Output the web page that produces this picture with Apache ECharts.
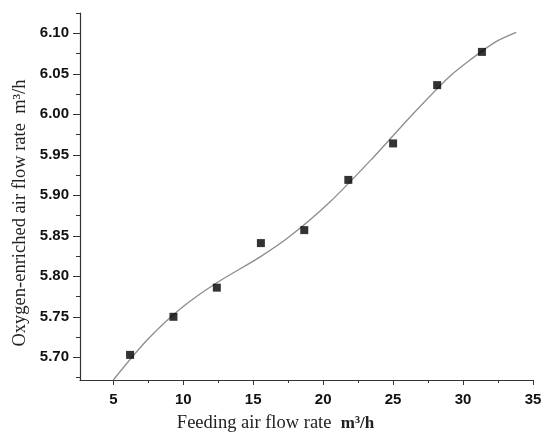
<!DOCTYPE html>
<html>
<head>
<meta charset="utf-8">
<style>
  html, body { margin: 0; padding: 0; background: #fff; }
  #chart { width: 544px; height: 435px; }
</style>
<script src="https://cdn.jsdelivr.net/npm/echarts@6/dist/echarts.min.js"></script>
</head>
<body>
<div id="chart"></div>
<script>
// measured points (feeding air vs oxygen-enriched air)
const feedX = [6.2, 9.3, 12.4, 15.55, 18.65, 21.8, 25.0, 28.15, 31.35];
const oxyY = [5.703, 5.750, 5.786, 5.841, 5.857, 5.919, 5.964, 6.036, 6.077];

// fitted curve
const fitX = [5.0, 7.4, 9.8, 12.4, 15.5, 17.6, 20.5, 23.6, 26.4, 29.0, 30.5, 32.3, 33.8];
const fitY = [5.672, 5.721, 5.760, 5.792, 5.824, 5.849, 5.892, 5.947, 6.000, 6.046, 6.067, 6.089, 6.101];

// tick labels
const xTicks = [5, 10, 15, 20, 25, 30, 35];
const xMinor = [7.5, 12.5, 17.5, 22.5, 27.5, 32.5];
const yTicks = [5.70, 5.75, 5.80, 5.85, 5.90, 5.95, 6.00, 6.05, 6.10];
const yMinor = [5.675, 5.725, 5.775, 5.825, 5.875, 5.925, 5.975, 6.025, 6.075, 6.125];

const axisColor = '#333';
const labelFont = { fontFamily: 'Liberation Sans', fontWeight: 'bold', fontSize: 15, color: '#111' };

const chart = echarts.init(document.getElementById('chart'));

const option = {
    animation: false,
    grid: { left: 80, right: 11, top: 13, bottom: 55, outerBoundsMode: 'none' },
    xAxis: [{
        type: 'value', min: 2.62, max: 35,
        splitLine: { show: false },
        axisLine: { lineStyle: { color: axisColor, width: 1.2 } },
        axisTick: { customValues: xTicks, length: 5, lineStyle: { color: axisColor } },
        axisLabel: Object.assign({ customValues: xTicks, margin: 12 }, labelFont),
        name: 'Feeding air flow rate  {b|m³/h}',
        nameLocation: 'middle', nameGap: 34,
        nameTextStyle: {
            fontFamily: 'Liberation Serif', fontSize: 18.5, color: '#222',
            padding: [0, 62, 0, 0],
            rich: { b: { fontFamily: 'Liberation Serif', fontWeight: 'bold', fontSize: 17, color: '#222' } }
        }
    }, {
        // minor ticks only
        type: 'value', min: 2.62, max: 35, position: 'bottom',
        splitLine: { show: false },
        axisLine: { show: false },
        axisTick: { customValues: xMinor, length: 3, lineStyle: { color: axisColor } },
        axisLabel: { show: false }
    }],
    yAxis: [{
        type: 'value', min: 5.672, max: 6.125,
        splitLine: { show: false },
        axisLine: { show: true, lineStyle: { color: axisColor, width: 1.2 } },
        axisTick: { show: true, customValues: yTicks, length: 7, lineStyle: { color: axisColor } },
        axisLabel: Object.assign({
            customValues: yTicks, margin: 11,
            formatter: v => v.toFixed(2)
        }, labelFont),
        name: 'Oxygen-enriched air flow rate  m³/h',
        nameLocation: 'middle', nameGap: 50,
        nameMoveOverlap: false,
        nameTextStyle: {
            fontFamily: 'Liberation Serif', fontSize: 18.5, color: '#222',
            padding: [0, 33, 0, 0]
        }
    }, {
        type: 'value', min: 5.672, max: 6.125, position: 'left',
        splitLine: { show: false },
        axisLine: { show: false },
        axisTick: { show: true, customValues: yMinor, length: 4, lineStyle: { color: axisColor } },
        axisLabel: { show: false }
    }],
    series: [{
        type: 'line',
        data: fitX.map((x, i) => [x, fitY[i]]),
        smooth: 0.3,
        showSymbol: false,
        lineStyle: { color: '#8c8c8c', width: 1.3 },
        z: 2
    }, {
        type: 'scatter',
        data: feedX.map((x, i) => [x, oxyY[i]]),
        symbol: 'rect',
        symbolSize: 8,
        itemStyle: { color: '#000' },
        z: 3
    }]
};

chart.setOption(option);
</script>
</body>
</html>
